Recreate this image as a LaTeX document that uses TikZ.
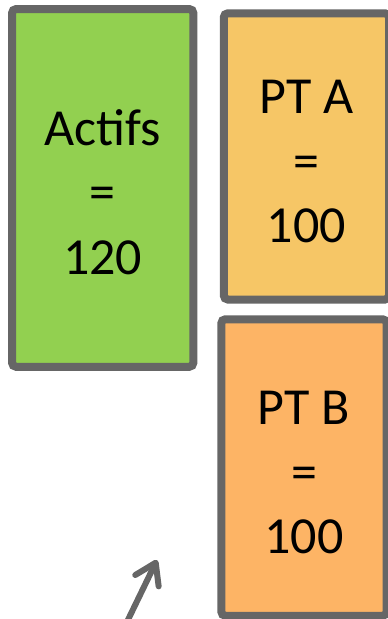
\documentclass[tikz,border=0pt]{standalone}
\usepackage{fontspec}
\setmainfont{Carlito}
\usetikzlibrary{arrows.meta}
\definecolor{boxgreen}{HTML}{92D050}
\definecolor{boxpta}{HTML}{F6C666}
\definecolor{boxptb}{HTML}{FDB465}
\definecolor{edgegray}{HTML}{666666}
\newcommand{\stacked}[1]{\raisebox{-9pt}[\height][\depth]{\begin{tabular}{@{}c@{}}#1\end{tabular}}}
\tikzset{
  bigbox/.style={draw=edgegray, line width=8pt, rounded corners=4pt, inner sep=0pt,
    align=center, font=\fontsize{52}{64.5}\selectfont, text=black},
  pointer/.style={draw=edgegray, line width=6pt, line cap=round,
    -{Straight Barb[length=20pt,width=26pt,line width=6pt,line cap=round,line join=round]}}
}
\begin{document}
\begin{tikzpicture}[x=1pt,y=-1pt]
\useasboundingbox (0,0) rectangle (388,619);
\node[bigbox, fill=boxgreen, minimum width=181.3pt, minimum height=357.7pt] (actifs) at (102.7,187.9) {\stacked{Actifs\\=\\120}};
\node[bigbox, fill=boxpta, minimum width=165.2pt, minimum height=286.2pt] (pta) at (306.4,156.4) {\stacked{PT A\\=\\100}};
\node[bigbox, fill=boxptb, minimum width=165.3pt, minimum height=296.5pt] (ptb) at (304,467.5) {\stacked{PT B\\=\\100}};
\coordinate (arrowtail) at (125,626);
\coordinate (arrowtip) at (157,560);
\draw[pointer] (arrowtail) -- (arrowtip);
\end{tikzpicture}
\end{document}
